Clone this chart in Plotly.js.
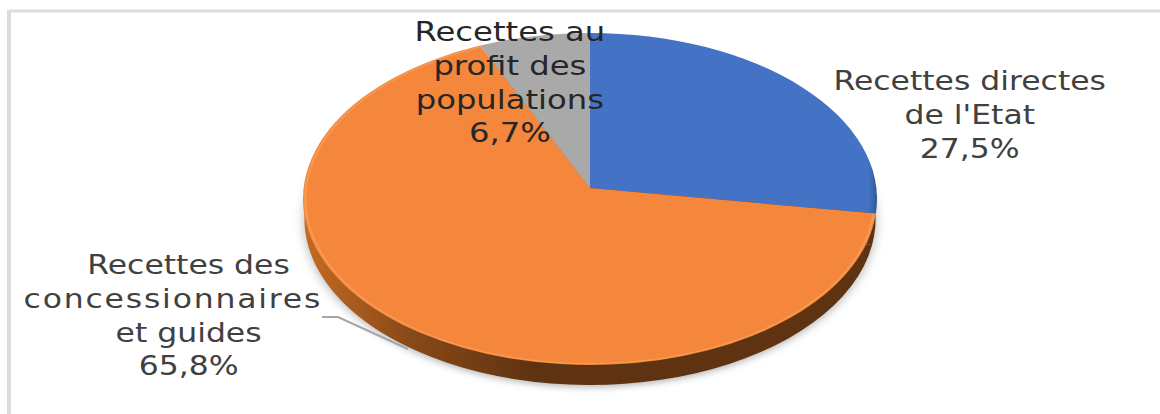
<!DOCTYPE html>
<html><head><meta charset="utf-8">
<script src="https://cdn.plot.ly/plotly-3.0.1.min.js"></script>
<style>html,body{margin:0;padding:0;background:#fff}#c{width:1160px;height:414px}</style>
</head><body><div id="c"></div>
<script>
const categories = ["Recettes directes de l'Etat", "Recettes des concessionnaires et guides", "Recettes au profit des populations"];
const values = [27.5, 65.8, 6.7];
const faceColors = ["#4472c4", "#f4873b", "#a9a9a9"];
const rimColors = ["#5f3312", "#5f3312", "#7f7f7f"];
const W = 1160, H = 414;
const px = (x) => x / W, py = (y) => 1 - y / H;

const pie = (colors, name) => ({
  type: 'pie', name, labels: categories, values, sort: false, direction: 'clockwise', rotation: 0,
  textinfo: 'none', hoverinfo: 'label+percent', showlegend: false,
  marker: {colors, line: {width: 0}},
  domain: {x: [0, 1], y: [0, 1]}
});

const label = (text, x, y, color) => ({
  text, x: px(x), y: py(y), xref: 'paper', yref: 'paper', showarrow: false,
  xanchor: 'center', yanchor: 'middle', align: 'center',
  font: {family: 'DejaVu Sans', size: 26, color}
});

const labelCenters = [969, 510, 188];
const labelStretch = [1.21, 1.24, 1.21];

const layout = {
  width: W, height: H, margin: {l: 0, r: 0, t: 0, b: 0},
  paper_bgcolor: '#fff', showlegend: false,
  annotations: [
    label("Recettes directes<br>de l'Etat<br>27,5%", labelCenters[0], 115, '#404040'),
    label("Recettes au<br>profit des<br>populations<br>6,7%", labelCenters[1], 82, '#262626'),
    label("Recettes des<br>concessionnaires<br>et guides<br>65,8%", labelCenters[2], 315, '#404040')
  ],
  shapes: [
    {type: 'line', xref: 'paper', yref: 'paper', x0: px(9), x1: 1, y0: py(11), y1: py(11),
     line: {color: '#dcdcdc', width: 3}, layer: 'below'},
    {type: 'line', xref: 'paper', yref: 'paper', x0: px(9), x1: px(9), y0: py(10), y1: 0,
     line: {color: '#dcdcdc', width: 4}, layer: 'below'},
    {type: 'path', xref: 'paper', yref: 'paper', layer: 'above',
     path: `M ${px(322)} ${py(317)} L ${px(338)} ${py(317)} L ${px(408)} ${py(349)}`,
     line: {color: '#a6a6a6', width: 2}}
  ]
};

const cx = 590, top_cy = 199, rx = 287, ry = 166, depth = 20, apexLift = 11, perspectiveDeg = 4;

function gradient(defs, id, stops, attrs) {
  const ns = 'http://www.w3.org/2000/svg';
  const g = document.createElementNS(ns, attrs.r !== undefined ? 'radialGradient' : 'linearGradient');
  g.setAttribute('id', id);
  Object.entries(attrs).forEach(([k, v]) => g.setAttribute(k, v));
  stops.forEach(([o, c]) => {
    const s = document.createElementNS(ns, 'stop');
    s.setAttribute('offset', o); s.setAttribute('stop-color', c); g.appendChild(s);
  });
  defs.appendChild(g);
}

Plotly.newPlot('c', [pie(rimColors, 'rim'), pie(faceColors, 'face')], layout, {displayModeBar: false, staticPlot: true}).then(gd => {
  const traces = gd.querySelectorAll('.pielayer .trace');
  const defs = gd.querySelector('.main-svg defs');
  const cd = gd.calcdata[0][0];
  const scaleX = rx / cd.r, scaleY = ry / cd.r;
  const place = (el, yc, sx) => el.setAttribute('transform',
    `translate(${cx} ${yc}) scale(${sx} ${scaleY}) translate(${-cd.cx} ${-cd.cy})`);
  place(traces[0], top_cy + depth, scaleX * 0.995);
  place(traces[1], top_cy, scaleX);
  traces[0].style.filter = 'drop-shadow(0 3px 4px rgba(0,0,0,0.28))';

  const radial = {gradientUnits: 'userSpaceOnUse', cx: cd.cx, cy: cd.cy, r: cd.r};
  gradient(defs, 'faceOrange', [[0, '#f4873b'], [0.985, '#f4873b'], [0.992, '#f99c58'], [1, '#ea8232']], radial);
  gradient(defs, 'faceBlue', [[0, '#4472c4'], [0.97, '#4472c4'], [1, '#2f5a96']],
    {x1: 0, y1: 0, x2: 1, y2: 0});
  gradient(defs, 'rimOrange', [[0, '#c56b22'], [0.18, '#8a4a18'], [0.4, '#5f3312'], [1, '#5f3312']],
    {x1: 0, y1: 0, x2: 1, y2: 0});

  // Perspective of the tilted disc: slice boundaries slide slightly along the rim.
  const warp = (x, y) => {
    const a = Math.atan2(x - cd.cx, -(y - cd.cy));
    const b = a - perspectiveDeg * Math.PI / 180 * Math.sin(a);
    return [cd.cx + cd.r * Math.sin(b), cd.cy - cd.r * Math.cos(b)];
  };
  const num = '[-+\\d.e]+';
  const faces = traces[1].querySelectorAll('path.surface');
  const fills = ['url(#faceBlue)', 'url(#faceOrange)', null];
  faces.forEach((p, i) => {
    if (fills[i]) p.style.fill = fills[i];
    let d = p.getAttribute('d');
    const m = d.match(new RegExp(`^M(${num}),(${num})l(${num}),(${num})`));
    if (!m) return;
    const x0 = +m[1], y0 = +m[2];
    let curX = x0 + +m[3], curY = y0 + +m[4];
    const s = warp(curX, curY);
    d = d.replace(m[0], `M${x0},${y0 - apexLift / scaleY}L${s[0]},${s[1]}`);
    d = d.replace(new RegExp(`a(${num}),(${num}) 0 (\\d) (\\d) (${num}),(${num})`, 'g'), (all, a, b, l, sw, dx, dy) => {
      curX += +dx; curY += +dy;
      const e = warp(curX, curY);
      return `A${a},${b} 0 ${l} ${sw} ${e[0]},${e[1]}`;
    });
    p.setAttribute('d', d);
  });
  traces[0].querySelectorAll('path.surface')[1].style.fill = 'url(#rimOrange)';

  gd.querySelectorAll('.annotation').forEach((a, i) => {
    const c = labelCenters[i];
    a.setAttribute('transform', `translate(${c} 0) scale(${labelStretch[i]} 1) translate(${-c} 0)`);
  });
  // The long word of the third label runs wider and further left in the reference.
  const lines = gd.querySelectorAll('.annotation')[2].querySelectorAll('tspan.line');
  if (lines[1]) {
    lines[1].style.letterSpacing = '1.5px';
    lines[1].setAttribute('x', +lines[1].getAttribute('x') - 13);
  }
});
</script></body></html>
